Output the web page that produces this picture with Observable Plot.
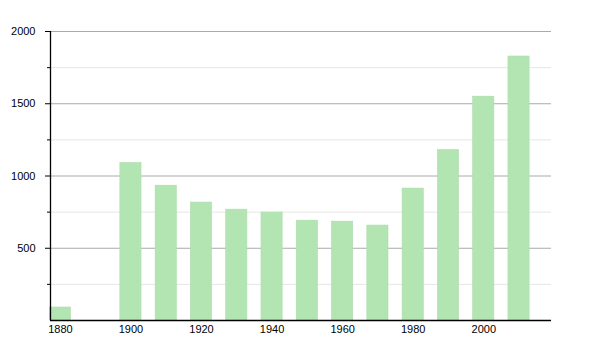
<!DOCTYPE html>
<html>
<head>
<meta charset="utf-8">
<script src="https://cdn.jsdelivr.net/npm/d3@7"></script>
<script src="https://cdn.jsdelivr.net/npm/@observablehq/plot@0.6"></script>
<style>
  html, body { margin: 0; padding: 0; background: #fff; }
</style>
</head>
<body>
<div id="chart"></div>
<script>
const years = [1880, 1900, 1910, 1920, 1930, 1940, 1950, 1960, 1970, 1980, 1990, 2000, 2010];
const population = [90, 1090, 933, 816, 767, 747, 691, 684, 657, 913, 1180, 1549, 1827];
const xTicks = [1880, 1900, 1920, 1940, 1960, 1980, 2000];
const yMajor = [500, 1000, 1500, 2000];
const yMinor = [250, 750, 1250, 1750];

const data = years.map((y, i) => ({year: y, value: population[i]}));
const xDomain = [1877.2, 2019.2];

const chart = Plot.plot({
  width: 600,
  height: 350,
  marginLeft: 50,
  marginRight: 49,
  marginTop: 31,
  marginBottom: 30,
  style: {fontFamily: "'Liberation Sans', Arial, sans-serif", fontSize: "11px", color: "#000", background: "#fff"},
  x: {domain: xDomain, axis: null},
  y: {domain: [0, 2000], axis: null},
  marks: [
    Plot.ruleY(yMinor, {stroke: "#e6e6e6", strokeWidth: 1}),
    Plot.ruleY(yMajor, {stroke: "#aaaaaa", strokeWidth: 1}),
    Plot.rectY(data, {x1: d => d.year - 3, x2: d => d.year + 3, y1: 0, y2: "value", fill: "#b3e5b3", stroke: "#acdcac", strokeWidth: 0.6}),
    Plot.axisY(yMinor, {tickSize: 3, tickFormat: () => "", stroke: "#000", label: null}),
    Plot.axisY(yMajor, {tickSize: 5, tickPadding: 10, tickFormat: d => String(d), stroke: "#000", fill: "#000", label: null}),
    Plot.axisX(xTicks, {tickSize: 0, tickPadding: 5, tickFormat: d => String(d), fill: "#000", label: null}),
    Plot.ruleX([xDomain[0]], {y1: 0, y2: 2000, stroke: "#000", strokeWidth: 1.3}),
    Plot.ruleY([0], {stroke: "#000", strokeWidth: 1.3})
  ]
});
document.getElementById("chart").appendChild(chart);
</script>
</body>
</html>
